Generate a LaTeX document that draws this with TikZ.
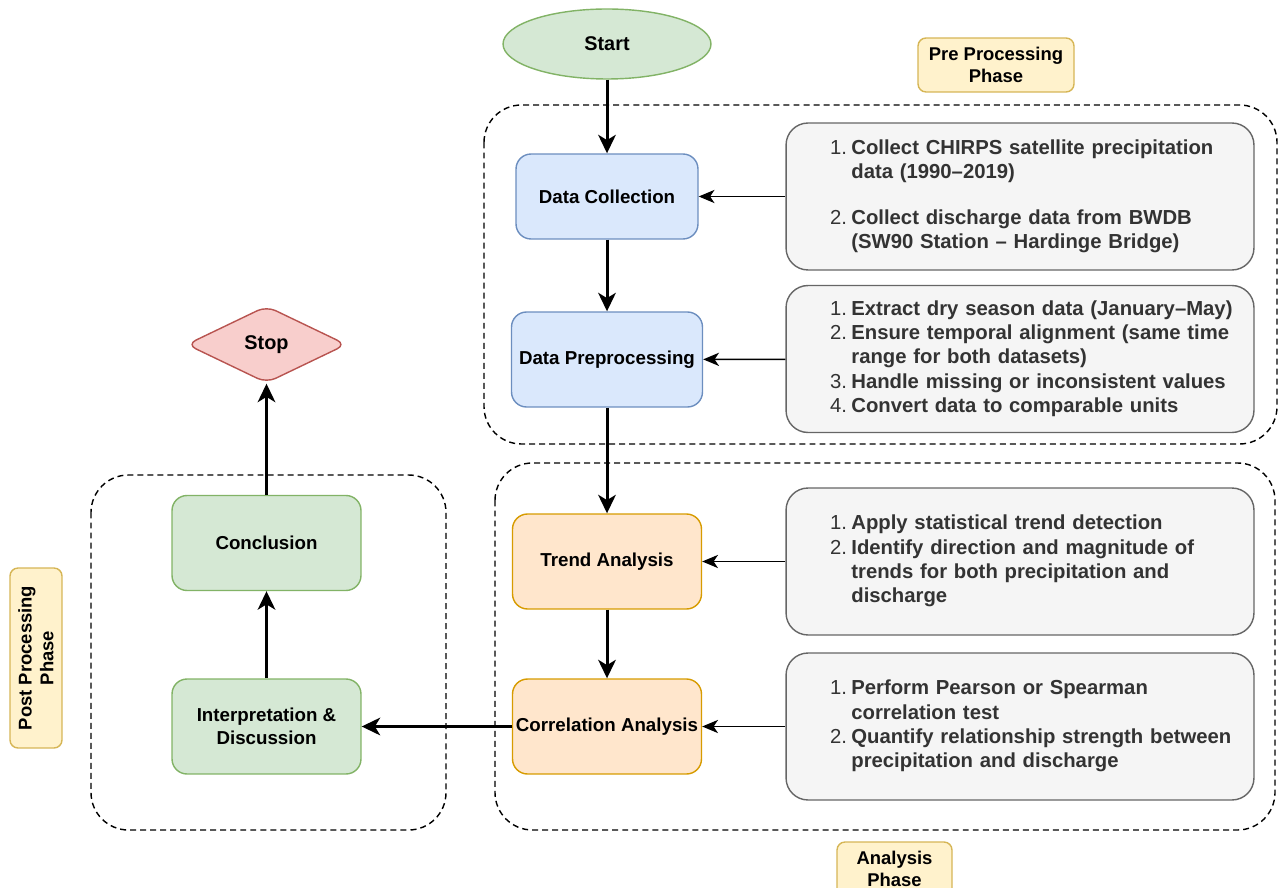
\documentclass[tikz,border=0pt]{standalone}
\usepackage{fontspec}
\setmainfont{Liberation Sans}
\usetikzlibrary{shapes.geometric,arrows.meta}
\definecolor{greenfill}{HTML}{D5E8D4}
\definecolor{greenline}{HTML}{82B366}
\definecolor{bluefill}{HTML}{DAE8FC}
\definecolor{blueline}{HTML}{6C8EBF}
\definecolor{orangefill}{HTML}{FFE6CC}
\definecolor{orangeline}{HTML}{D79B00}
\definecolor{redfill}{HTML}{F8CECC}
\definecolor{redline}{HTML}{B85450}
\definecolor{yellowfill}{HTML}{FFF2CC}
\definecolor{yellowline}{HTML}{D6B656}
\definecolor{greyfill}{HTML}{F5F5F5}
\definecolor{greyline}{HTML}{666666}
\definecolor{greytext}{HTML}{333333}

\begin{document}
\begin{tikzpicture}[x=0.02cm,y=-0.02cm]
        %
        % `process' is used for the steps of the flow.
        % `infobox' is used for the grey boxes with the lists.
        % `phaselabel' is used for the yellow phase names.
        % `surround' is used for the dashed phase frames.
        \tikzstyle{process} = [draw,line width=0.8pt,rounded corners=0.3cm,minimum width=3.78cm,minimum height=1.9cm,inner sep=0pt,align=center,font=\fontsize{10.66}{12.8}\selectfont\bfseries]
        \tikzstyle{infobox} = [draw=greyline,fill=greyfill,line width=0.8pt,rounded corners=0.44cm,text width=7.6cm,inner xsep=0.88cm,inner ysep=0pt,minimum height=2.94cm,align=left,text=greytext,font=\fontsize{11.55}{13.8}\selectfont]
        \tikzstyle{phaselabel} = [draw=yellowline,fill=yellowfill,line width=0.8pt,rounded corners=0.16cm,minimum height=1.08cm,inner sep=0pt,align=center,font=\fontsize{10.5}{12.4}\selectfont\bfseries]
        \tikzstyle{surround} = [draw,line width=0.8pt,dash pattern=on 3.4pt off 2.3pt,rounded corners=0.75cm]
        \tikzstyle{flow} = [line width=1.7pt,-{Stealth[length=10.5pt,width=10pt,inset=3pt]}]
        \tikzstyle{feed} = [line width=0.85pt,-{Stealth[length=9pt,width=7.5pt,inset=2.5pt]}]
        %
        \useasboundingbox (0,0) rectangle (1280,888);
        %
        % Phase frames
        \draw[surround] (484,105) rectangle (1277,444);
        \draw[surround] (495,463) rectangle (1275,830);
        \draw[surround] (91,475) rectangle (446,830);
        %
        % Phase names
        \node[phaselabel,minimum width=3.12cm] (prephase) at (996,65) {Pre Processing\\Phase};
        \node[phaselabel,minimum width=2.3cm] (anaphase) at (894.5,869) {Analysis\\Phase};
        \node[phaselabel,minimum width=3.6cm,minimum height=1.04cm,rotate=90] (postphase) at (36,658) {Post Processing\\Phase};
        %
        % Main column
        \node[ellipse,draw=greenline,fill=greenfill,line width=0.8pt,minimum width=4.16cm,minimum height=1.4cm,inner sep=0pt,font=\fontsize{11.3}{13.5}\selectfont\bfseries] (start) at (607,44) {Start};
        \node[process,draw=blueline,fill=bluefill,minimum width=3.64cm,minimum height=1.7cm] (collect) at (607,196.5) {Data Collection};
        \node[process,draw=blueline,fill=bluefill,minimum width=3.82cm] (prep) at (607,359.5) {Data Preprocessing};
        \node[process,draw=orangeline,fill=orangefill] (trend) at (607,561.5) {Trend Analysis};
        \node[process,draw=orangeline,fill=orangefill] (corr) at (607,726.5) {Correlation Analysis};
        %
        % Left column
        \node[process,draw=greenline,fill=greenfill] (interp) at (266.5,726.5) {Interpretation \&\\Discussion};
        \node[process,draw=greenline,fill=greenfill] (concl) at (266.5,543) {Conclusion};
        \node[diamond,draw=redline,fill=redfill,line width=0.8pt,rounded corners=0.2cm,minimum width=3.2cm,minimum height=1.54cm,inner sep=0pt,font=\fontsize{11.3}{13.5}\selectfont\bfseries] (stop) at (266.5,344.5) {Stop};
        %
        % Lists
        \node[infobox] (info1) at (1020,196.5) {\begin{tabular}{@{}l@{\hspace{2.5pt}}l@{}}
        1.&\textbf{Collect CHIRPS satellite precipitation}\\
        &\textbf{data (1990--2019)}\\[12pt]
        2.&\textbf{Collect discharge data from BWDB}\\
        &\textbf{(SW90 Station -- Hardinge Bridge)}
        \end{tabular}};
        \node[infobox] (info2) at (1020,359) {\begin{tabular}{@{}l@{\hspace{2.5pt}}l@{}}
        1.&\textbf{Extract dry season data (January--May)}\\
        2.&\textbf{Ensure temporal alignment (same time}\\
        &\textbf{range for both datasets)}\\
        3.&\textbf{Handle missing or inconsistent values}\\
        4.&\textbf{Convert data to comparable units}
        \end{tabular}};
        \node[infobox] (info3) at (1020,561.5) {\begin{tabular}{@{}l@{\hspace{2.5pt}}l@{}}
        1.&\textbf{Apply statistical trend detection}\\
        2.&\textbf{Identify direction and magnitude of}\\
        &\textbf{trends for both precipitation and}\\
        &\textbf{discharge}
        \end{tabular}};
        \node[infobox] (info4) at (1020,726.5) {\begin{tabular}{@{}l@{\hspace{2.5pt}}l@{}}
        1.&\textbf{Perform Pearson or Spearman}\\
        &\textbf{correlation test}\\
        2.&\textbf{Quantify relationship strength between}\\
        &\textbf{precipitation and discharge}
        \end{tabular}};
        %
        % Arrows
        \draw[flow] (start) -- (collect);
        \draw[flow] (collect) -- (prep);
        \draw[flow] (prep) -- (trend);
        \draw[flow] (trend) -- (corr);
        \draw[flow] (corr) -- (interp);
        \draw[flow] (interp) -- (concl);
        \draw[flow] (concl) -- (stop);
        \draw[feed] (info1) -- (collect);
        \draw[feed] (info2) -- (prep);
        \draw[feed] (info3) -- (trend);
        \draw[feed] (info4) -- (corr);
        %
\end{tikzpicture}
\end{document}
